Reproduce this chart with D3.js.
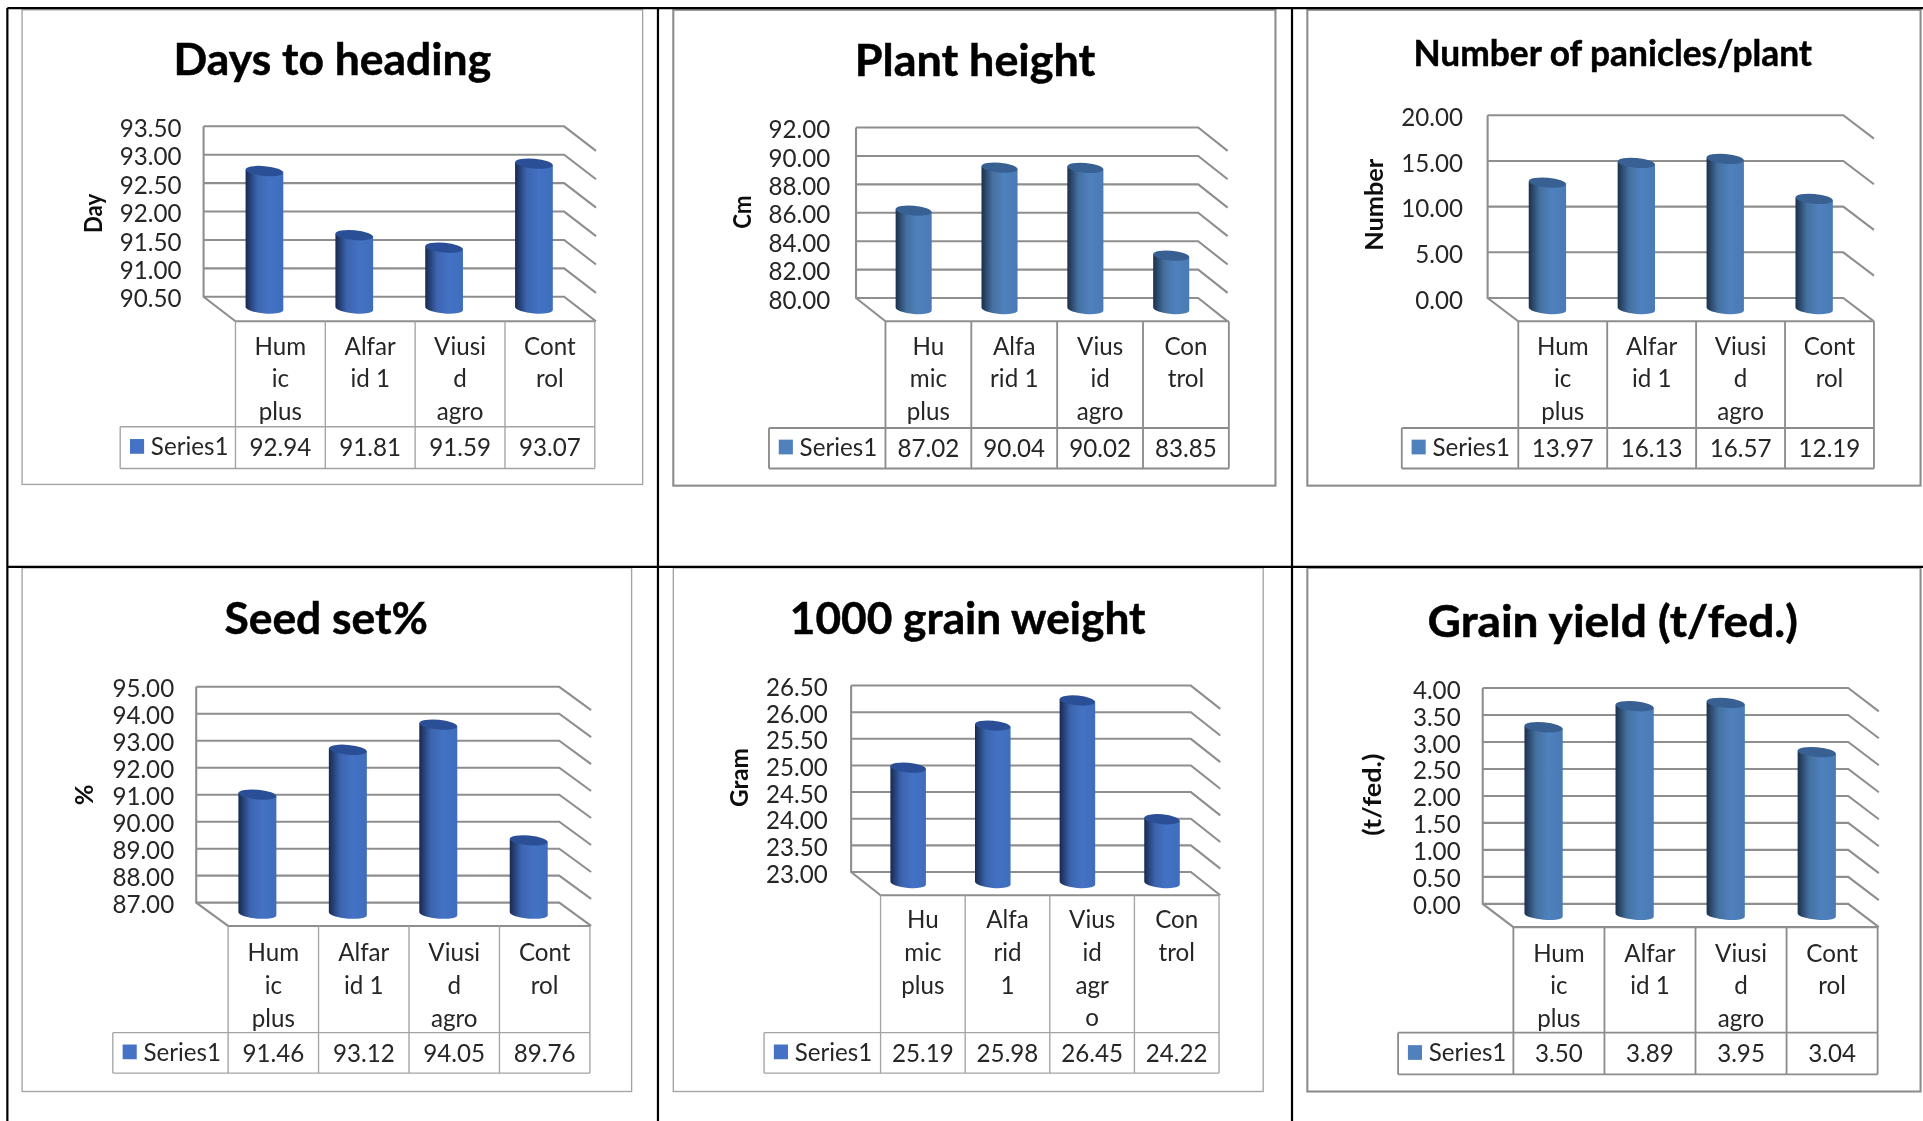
<!DOCTYPE html>
<html><head><meta charset="utf-8">
<script src="https://cdn.jsdelivr.net/npm/d3@7"></script>
<style>
html,body{margin:0;padding:0;background:#fff}
svg{display:block}
text{font-family:Lato,"Open Sans",sans-serif;fill:#262626}
</style></head><body>
<div id="chart"></div>
<script>
// ---------- data ----------
const seriesName = "Series1";
const titles = ["Days to heading","Plant height","Number of panicles/plant","Seed set%","1000 grain weight","Grain yield (t/fed.)"];
const axisLabels = ["Day","Cm","Number","%","Gram","(t/fed.)"];
const categories = ["Humic plus","Alfarid 1","Viusid agro","Control"];
const daysToHeading = [92.94,91.81,91.59,93.07];
const plantHeight = [87.02,90.04,90.02,83.85];
const panicles = [13.97,16.13,16.57,12.19];
const seedSet = [91.46,93.12,94.05,89.76];
const grainWeight = [25.19,25.98,26.45,24.22];
const grainYield = [3.50,3.89,3.95,3.04];
const allValues = [daysToHeading,plantHeight,panicles,seedSet,grainWeight,grainYield];
const ticks1 = [90.5,91,91.5,92,92.5,93,93.5];
const ticks2 = [80,82,84,86,88,90,92];
const ticks3 = [0,5,10,15,20];
const ticks4 = [87,88,89,90,91,92,93,94,95];
const ticks5 = [23,23.5,24,24.5,25,25.5,26,26.5];
const ticks6 = [0,0.5,1,1.5,2,2.5,3,3.5,4];
const allTicks = [ticks1,ticks2,ticks3,ticks4,ticks5,ticks6];
const wrapA = [["Hum","ic","plus"],["Alfar","id 1"],["Viusi","d","agro"],["Cont","rol"]];
const wrapB = [["Hu","mic","plus"],["Alfa","rid 1"],["Vius","id","agro"],["Con","trol"]];
const wrapC = [["Hu","mic","plus"],["Alfa","rid","1"],["Vius","id","agr","o"],["Con","trol"]];
const allWraps = [wrapA,wrapB,wrapA,wrapA,wrapC,wrapA];

// ---------- layout (in 1568-wide units) ----------
const layouts = [
 {f:[18,8,524,395], tx:271,ty:61,tw:259,ts:36, w:[166,460,103,242], fr:[192,485,262], tb:[348,382,98], lx:76,ly:174,ls:20,lw:32,tr:148, thin:true, c1:20, cd:-1},
 {f:[549,8,1040,396], tx:795,ty:62,tw:196,ts:36, w:[698,977,104,243], fr:[722,1002,262], tb:[349,382,627], lx:605,ly:173,ls:20,lw:27,tr:677, thin:false, c1:20, cd:-1},
 {f:[1066,8,1566,396], tx:1315,ty:54,tw:325,ts:29, w:[1213,1503,94,243], fr:[1238,1528,262], tb:[349,382,1143], lx:1121,ly:167,ls:20,lw:75,tr:1193, thin:false, c1:20, cd:-1},
 {f:[18,463,515,890], tx:266,ty:517,tw:166,ts:36, w:[160,456,560,736], fr:[186,481,755], tb:[842,875,92], lx:69,ly:648,ls:20,lw:17,tr:142, thin:true, c1:21.5, cd:-0.8},
 {f:[549,463,1030,890], tx:789,ty:517,tw:290,ts:36, w:[694,971,559,711], fr:[718,994,730], tb:[842,875,623], lx:603,ly:634,ls:20,lw:48,tr:675, thin:true, c1:19.5, cd:-0.8},
 {f:[1066,463,1566,890], tx:1315,ty:519,tw:302,ts:36, w:[1209,1507,561,737], fr:[1234,1531,756], tb:[842,876,1140], lx:1119,ly:648,ls:20,lw:67,tr:1191, thin:false, c1:21, cd:-0.8}
];

const K = 1923/1568;
const svg = d3.select("#chart").append("svg").attr("width",1923).attr("height",1121);
const defs = svg.append("defs");
defs.append("filter").attr("id","soft").attr("filterUnits","userSpaceOnUse")
  .attr("x",0).attr("y",0).attr("width",1923).attr("height",1121)
  .append("feGaussianBlur").attr("stdDeviation",0.55);
const palettes = {
  thin:{id:"cylA",dark:"#18294f",mid:"#3b64ae",light:"#4472c4",end:"#3f6dbd",top:"#2b5097",sw:"#4472c4"},
  thick:{id:"cylB",dark:"#1c2f4b",mid:"#44709f",light:"#4f81bd",end:"#4a7ab5",top:"#376092",sw:"#4f81bd"}
};
Object.values(palettes).forEach(p=>{
  const g = defs.append("linearGradient").attr("id",p.id);
  [[0,p.dark],[.3,p.mid],[.62,p.light],[1,p.end]].forEach(([o,c])=>g.append("stop").attr("offset",o).attr("stop-color",c));
});

const root = svg.append("g").attr("filter","url(#soft)").append("g").attr("transform",`scale(${K})`);
root.append("rect").attr("width",1568).attr("height",914).attr("fill","#fff");

layouts.forEach((L,i)=>{
  const vals = allValues[i], ticks = allTicks[i], wraps = allWraps[i];
  const pal = L.thin?palettes.thin:palettes.thick;
  const lineC = L.thin?"#a3a3a3":"#8c8c8c", lineW = L.thin?1.1:1.5;
  const g = root.append("g");
  g.append("rect").attr("x",L.f[0]).attr("y",L.f[1]).attr("width",L.f[2]-L.f[0]).attr("height",L.f[3]-L.f[1])
    .attr("fill","#fff").attr("stroke",lineC).attr("stroke-width",L.thin?1.1:1.7);

  g.append("text").attr("x",L.tx).attr("y",L.ty).attr("text-anchor","middle")
    .attr("font-size",L.ts).attr("font-weight",700).style("fill","#000").style("stroke","#000").style("stroke-width",0.4)
    .attr("textLength",L.tw).attr("lengthAdjust","spacingAndGlyphs").text(titles[i]);

  const [wx0,wx1,wTop,wBot] = L.w, [fx0,fx1,fy] = L.fr;
  const dx = fx0-wx0, dy = fy-wBot;
  const y = d3.scaleLinear().domain(d3.extent(ticks)).range([wBot,wTop]);
  const x = d3.scaleBand().domain(categories).range([fx0,fx1]);

  // walls and gridlines
  const wall = g.append("g").attr("stroke","#8e8e8e").attr("stroke-width",1.7).attr("fill","none");
  ticks.forEach(t=>{
    wall.append("path").attr("d",`M${wx0},${y(t)}H${wx1}L${wx1+dx},${y(t)+dy}`);
  });
  wall.append("path").attr("d",`M${wx0},${wTop}V${wBot}L${fx0},${fy}H${fx1}`);

  // y axis labels
  const ax = g.append("g").attr("transform",`translate(${L.tr},1)`)
    .call(d3.axisLeft(y).tickValues(ticks).tickFormat(d3.format(".2f")).tickSize(0).tickPadding(0));
  ax.select(".domain").remove();
  ax.selectAll("text").attr("font-size",19.7).attr("font-family",null).attr("dy",".36em");

  g.append("text").attr("transform",`translate(${L.lx},${L.ly}) rotate(-90)`).attr("text-anchor","middle")
    .attr("dy",".35em").attr("font-size",L.ls).attr("font-weight",700).style("fill","#111")
    .attr("textLength",L.lw).attr("lengthAdjust","spacingAndGlyphs").text(axisLabels[i]);

  // cylinders
  const bw = x.bandwidth()*0.42, rot = 5, ry = 4, tilt = 1.2;
  const baseY = wBot+dy/2-0.5;
  categories.forEach((c,j)=>{
    const cx = x(c)+x.bandwidth()/2-dx/2, xl = cx-bw/2, xr = cx+bw/2, rx = bw/2;
    const top = y(vals[j])+dy/2+0.5;
    g.append("path").attr("fill",`url(#${pal.id})`)
      .attr("d",`M${xl},${top-tilt}L${xl},${baseY-tilt}A${rx},${ry} ${rot} 0 0 ${xr},${baseY+tilt}L${xr},${top+tilt}Z`);
    g.append("ellipse").attr("cx",cx).attr("cy",top).attr("rx",rx).attr("ry",ry)
      .attr("transform",`rotate(${rot} ${cx} ${top})`).attr("fill",pal.top);
  });

  // data table
  const [rowY,botY,legX] = L.tb;
  const tl = g.append("g").attr("stroke",lineC).attr("stroke-width",lineW);
  const edges = categories.map(c=>x(c)).concat(fx1);
  edges.forEach(e=>tl.append("line").attr("x1",e).attr("x2",e).attr("y1",fy).attr("y2",botY));
  tl.append("line").attr("x1",legX).attr("x2",legX).attr("y1",rowY).attr("y2",botY);
  tl.append("line").attr("x1",legX).attr("x2",fx1).attr("y1",rowY).attr("y2",rowY);
  tl.append("line").attr("x1",legX).attr("x2",fx1).attr("y1",botY).attr("y2",botY);

  const cell = (rowY+botY)/2+.5+L.cd;
  categories.forEach((c,j)=>{
    const cx = x(c)+x.bandwidth()/2;
    wraps[j].forEach((s,k)=>{
      g.append("text").attr("x",cx).attr("y",fy+L.c1+k*26.8).attr("text-anchor","middle").attr("dy",".36em")
        .attr("font-size",19.7).text(s);
    });
    g.append("text").attr("x",cx).attr("y",cell+.5).attr("text-anchor","middle").attr("dy",".36em")
      .attr("font-size",19.7).text(d3.format(".2f")(vals[j]));
  });
  g.append("rect").attr("x",legX+8).attr("y",cell-6.5).attr("width",11.5).attr("height",12).attr("fill",pal.sw);
  g.append("text").attr("x",legX+25).attr("y",cell-.5).attr("dy",".36em").attr("font-size",19.7).text(seriesName);
});

// outer table rules
const rules = root.append("g").attr("stroke","#000").attr("stroke-width",1.8);
[[6,6.6,1568,6.6],[6,462.3,1568,462.3],[6,6.6,6,914],[536.5,6.6,536.5,914],[1053.5,6.6,1053.5,914]].forEach(r=>
  rules.append("line").attr("x1",r[0]).attr("y1",r[1]).attr("x2",r[2]).attr("y2",r[3]));
</script>
</body></html>
